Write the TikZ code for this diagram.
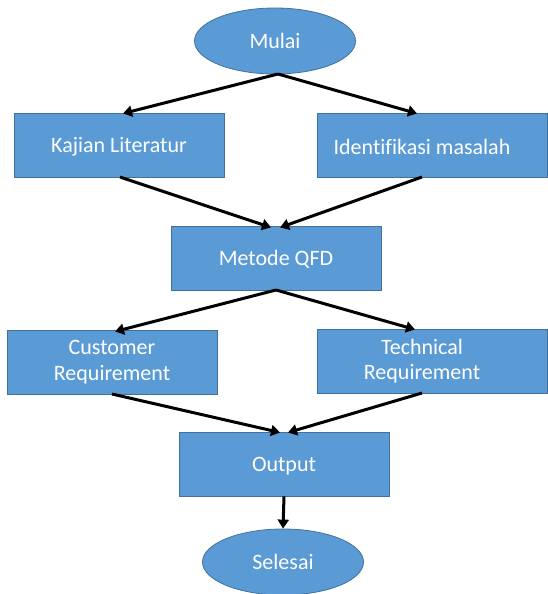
\documentclass[tikz,border=0pt]{standalone}
\usepackage{fontspec}
\setmainfont{Carlito}[Ligatures=NoCommon]
\usetikzlibrary{shapes.geometric,arrows.meta}
\definecolor{boxfill}{HTML}{5B9BD5}
\definecolor{boxline}{HTML}{41719C}
\tikzset{
  procbox/.style={rectangle, draw=boxline, line width=0.8pt, fill=boxfill, text=white,
    minimum width=210pt, minimum height=64pt, inner sep=0pt, align=center,
    font=\fontsize{22}{26}\selectfont},
  labeltext/.style={text=white, align=center, inner sep=0pt, font=\fontsize{22}{25}\selectfont},
  termnode/.style={ellipse, draw=boxline, line width=0.8pt, fill=boxfill, text=white,
    minimum width=161pt, minimum height=66pt, inner sep=0pt,
    font=\fontsize{22}{26}\selectfont},
  flow/.style={draw=black, line width=3pt, -{Triangle[length=9pt,width=11pt]}}
}
\begin{document}
\begin{tikzpicture}[x=1pt,y=-1pt]
\useasboundingbox (0,0) rectangle (547,594);
\node[termnode] (mulai) at (275,41) {Mulai};
\node[procbox] (kajian) at (119,145) {};
\node[labeltext] (kajiantxt) at (119,147) {Kajian Literatur};
\node[procbox, minimum width=230pt] (ident) at (432,145) {};
\node[labeltext] (identtxt) at (422,147) {Identifikasi masalah};
\node[procbox] (qfd) at (276,258) {};
\node[labeltext] (qfdtxt) at (276,259) {Metode QFD};
\node[procbox] (cust) at (112,362) {Customer\\Requirement};
\node[procbox, minimum width=230pt] (tech) at (432,361) {};
\node[labeltext] (techtxt) at (422,361) {Technical\\Requirement};
\node[procbox] (out) at (284,464) {};
\node[labeltext] (outtxt) at (284,466) {Output};
\node[termnode] (sel) at (283,562) {Selesai};

\coordinate (m1) at (278,74);
\draw[flow] (m1) -- (123,113.5);
\draw[flow] (m1) -- (417,113.5);
\draw[flow] (120,177) -- (271,227.5);
\draw[flow] (422,177) -- (280,227.5);
\draw[flow] (276,290) -- (115,331.5);
\draw[flow] (276,290) -- (415,329.5);
\draw[flow] (112,394) -- (280,432.5);
\draw[flow] (422,393) -- (288,432.5);
\draw[flow] (out.south) -- (sel.north);
\end{tikzpicture}
\end{document}
